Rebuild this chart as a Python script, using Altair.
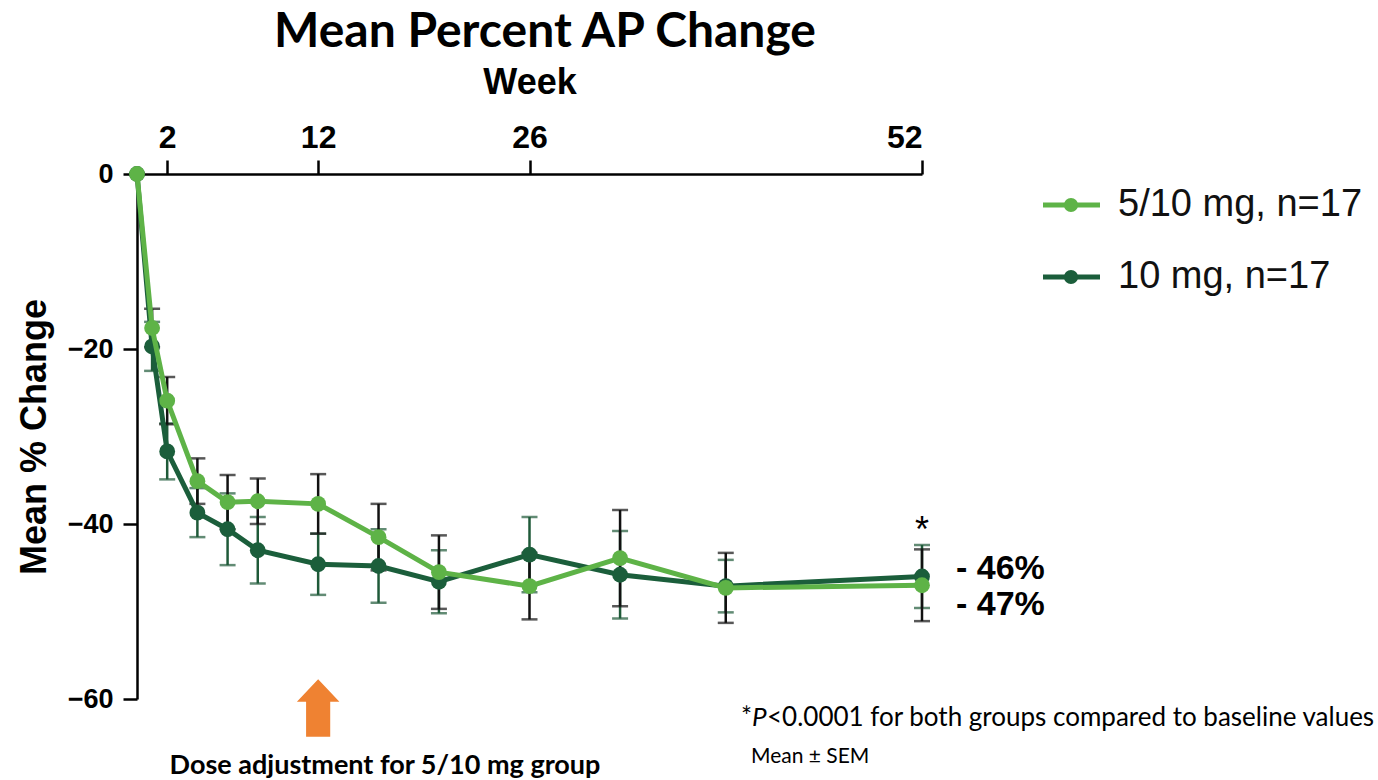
import altair as alt
import pandas as pd

# Mean percent change in AP from baseline, with SEM, by study week
weeks = [0, 1, 2, 4, 6, 8, 12, 16, 20, 26, 32, 39, 52]
mean_5_10 = [0, -17.6, -25.9, -35.1, -37.5, -37.4, -37.7, -41.5, -45.5, -47.1, -43.9, -47.3, -47.0]
sem_5_10 = [0, 2.2, 2.7, 2.6, 3.1, 2.6, 3.4, 3.8, 4.2, 3.8, 5.5, 4.0, 4.1]
mean_10 = [0, -19.7, -31.7, -38.7, -40.6, -43.0, -44.6, -44.8, -46.6, -43.5, -45.8, -47.1, -46.0]
sem_10 = [0, 2.8, 3.2, 2.8, 4.1, 3.8, 3.5, 4.2, 3.6, 4.3, 5.0, 3.0, 3.6]

groups = ["5/10 mg, n=17", "10 mg, n=17"]
line_colors = ["#5eb347", "#1b5e3b"]
bar_colors = ["#111111", "#1f5a39"]
x_ticks = [2, 12, 26, 52]
y_ticks = [0, -20, -40, -60]
dose_adjust_week = [12]

W, H = 785, 525
AXIS_FONT = "Liberation Sans"
NOTE_FONT = "Lato"


def series_frame(group, means, sems):
    return pd.DataFrame({
        "group": group,
        "week": weeks,
        "mean": means,
        "lo": [m - s for m, s in zip(means, sems)],
        "hi": [m + s for m, s in zip(means, sems)],
    })


frames = [series_frame(groups[0], mean_5_10, sem_5_10),
          series_frame(groups[1], mean_10, sem_10)]

x_scale = alt.Scale(domain=[0, 52], nice=False, zero=False)
y_scale = alt.Scale(domain=[-60, 0], nice=False, zero=False)
x_axis = alt.Axis(orient="top", values=x_ticks, title="Week", labelFontSize=32,
                  labelFont=AXIS_FONT, labelFontWeight="bold", labelPadding=6,
                  tickSize=14, titleFont=AXIS_FONT, titleFontSize=36,
                  titleFontWeight="bold", titlePadding=20, labelColor="black",
                  titleColor="black")
y_axis = alt.Axis(values=y_ticks, title="Mean % Change", labelFontSize=27,
                  labelFont=AXIS_FONT, labelFontWeight="bold", labelPadding=10,
                  tickSize=14, titleFont=AXIS_FONT, titleFontSize=36,
                  titleFontWeight="bold", titlePadding=14, labelColor="black",
                  titleColor="black")


def xq(field="week"):
    return alt.X(f"{field}:Q", scale=x_scale, axis=x_axis)


def yq(field):
    return alt.Y(f"{field}:Q", scale=y_scale, axis=y_axis)


def error_layers(df, color):
    base = alt.Chart(df)
    whisker = base.mark_rule(color=color, strokeWidth=2.5).encode(
        x=xq(), y=yq("lo"), y2="hi:Q")
    cap_lo = base.mark_tick(color=color, orient="horizontal", size=16,
                            thickness=2.5).encode(x=xq(), y=yq("lo"))
    cap_hi = base.mark_tick(color=color, orient="horizontal", size=16,
                            thickness=2.5).encode(x=xq(), y=yq("hi"))
    return [whisker, cap_lo, cap_hi]


def line_layers(df, color):
    base = alt.Chart(df)
    line = base.mark_line(color=color, strokeWidth=5).encode(x=xq(), y=yq("mean"))
    pts = base.mark_circle(color=color, size=250, opacity=1).encode(x=xq(), y=yq("mean"))
    return [line, pts]


layers = []
layers += error_layers(frames[1], bar_colors[1])
layers += error_layers(frames[0], bar_colors[0])
layers += line_layers(frames[1], line_colors[1])
layers += line_layers(frames[0], line_colors[0])

# End-of-study value labels
for df, dy in [(frames[1], -8), (frames[0], 20)]:
    last = df.tail(1).copy()
    last["label"] = last["mean"].map(lambda v: f"- {abs(round(v))}%")
    layers.append(alt.Chart(last).mark_text(
        align="left", baseline="middle", dx=34, dy=dy, font=AXIS_FONT,
        fontSize=34, fontWeight="bold", color="black").encode(
        x=xq(), y=yq("mean"), text="label:N"))

# Significance marker above week 52
star = frames[1].tail(1)
layers.append(alt.Chart(star).mark_text(
    text="*", baseline="middle", dy=-14, font=AXIS_FONT, fontSize=36,
    color="black").encode(x=xq(), y=yq("hi")))

# Dose adjustment arrow
arrow_path = ("M0,-1 L0.74,-0.22 L0.42,-0.22 L0.42,1 L-0.42,1 "
              "L-0.42,-0.22 L-0.74,-0.22 Z")
dose_df = pd.DataFrame({"week": dose_adjust_week})
layers.append(alt.Chart(dose_df).mark_point(
    shape=arrow_path, filled=True, color="#ef8232", size=3300, opacity=1,
    strokeWidth=0).encode(x=xq(), y=alt.value(H + 9)))
layers.append(alt.Chart(dose_df).mark_text(
    text="Dose adjustment for 5/10 mg group", font=NOTE_FONT, fontSize=27,
    fontWeight="bold", color="black", baseline="middle").encode(
    x=alt.value(248), y=alt.value(H + 67)))

# Legend
for i, (g, c) in enumerate(zip(groups, line_colors)):
    ly = 31 + 72 * i
    layers.append(alt.Chart(dose_df).mark_rule(color=c, strokeWidth=5).encode(
        x=alt.value(906), x2=alt.value(963), y=alt.value(ly)))
    layers.append(alt.Chart(dose_df).mark_circle(color=c, size=200, opacity=1).encode(
        x=alt.value(934), y=alt.value(ly)))
    layers.append(alt.Chart(dose_df).mark_text(
        text=g, align="left", baseline="middle", font=AXIS_FONT, fontSize=38,
        color="#111111").encode(x=alt.value(981), y=alt.value(ly)))

# Title and footnotes
layers.append(alt.Chart(dose_df).mark_text(
    text="Mean Percent AP Change", font=NOTE_FONT, fontSize=48, fontWeight="bold",
    color="black", baseline="middle").encode(x=alt.value(408), y=alt.value(-141)))
layers.append(alt.Chart(dose_df).mark_text(
    text="*", align="left", baseline="middle", font=NOTE_FONT, fontSize=26,
    color="black").encode(x=alt.value(604), y=alt.value(H + 19)))
layers.append(alt.Chart(dose_df).mark_text(
    text="P", align="left", baseline="middle", font=NOTE_FONT, fontSize=26,
    fontStyle="italic", color="black").encode(x=alt.value(615), y=alt.value(H + 19)))
layers.append(alt.Chart(dose_df).mark_text(
    text="<0.0001 for both groups compared to baseline values", align="left",
    baseline="middle", font=NOTE_FONT, fontSize=26, color="black").encode(
    x=alt.value(630), y=alt.value(H + 19)))
layers.append(alt.Chart(dose_df).mark_text(
    text="Mean ± SEM", align="left", baseline="middle", font=NOTE_FONT,
    fontSize=21, color="black").encode(x=alt.value(614), y=alt.value(H + 58)))

chart = alt.layer(*layers).properties(
    width=W, height=H,
    autosize=alt.AutoSizeParams(type="none"),
    padding={"left": 137, "top": 174, "right": 1378 - 137 - W, "bottom": 780 - 174 - H},
).configure_view(stroke=None).configure_axis(
    grid=False, domainColor="black", domainWidth=2.5, tickColor="black",
    tickWidth=2.5,
)

chart.save("out.html", embed_options={"renderer": "svg", "actions": False})
